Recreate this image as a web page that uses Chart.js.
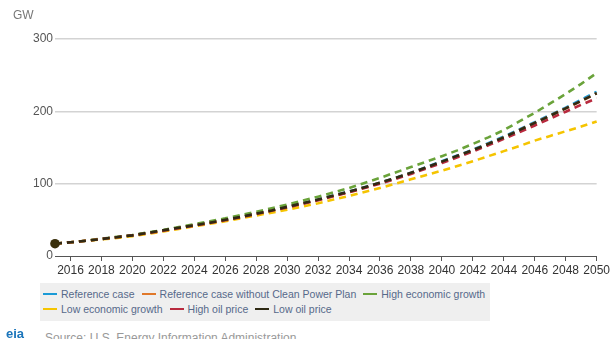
<!DOCTYPE html>
<html><head><meta charset="utf-8">
<script src="https://cdn.jsdelivr.net/npm/chart.js@4"></script>
<style>
html,body{margin:0;padding:0;width:612px;height:339px;overflow:hidden;background:#fff;font-family:"Liberation Sans",Arial,sans-serif;}
#wrap{position:absolute;left:0;top:0;width:612px;height:282px;}
#gw{position:absolute;left:13px;top:8px;font-size:12px;color:#777;}
#legend{position:absolute;left:40px;top:283px;width:450px;height:38px;background:#efefef;box-sizing:border-box;padding:3px 0 0 3px;}
.row{display:flex;align-items:center;height:15px;font-size:10.5px;color:#56698a;white-space:nowrap;}
.item{display:flex;align-items:center;margin-right:7px;}
.sw{display:inline-block;width:14px;height:2px;margin-right:4px;}
#src{position:absolute;left:45px;top:331px;font-size:12px;color:#999;}
#logo{position:absolute;left:6px;top:326px;font-size:13px;font-weight:bold;color:#1b75bb;}
</style></head><body>
<div id="wrap"><canvas id="c" width="612" height="282"></canvas></div>
<div id="gw">GW</div>
<div id="legend"></div>
<div id="logo">eia</div>
<div id="src">Source: U.S. Energy Information Administration</div>
<script>
const years = [];
for (let y = 2015; y <= 2050; y++) years.push(y);
const tickYears = [2016,2018,2020,2022,2024,2026,2028,2030,2032,2034,2036,2038,2040,2042,2044,2046,2048,2050];
const yTicks = [0,100,200,300];

const seriesNames = ["Reference case","Reference case without Clean Power Plan","High economic growth","Low economic growth","High oil price","Low oil price"];
const seriesColors = ["#1a9ad6","#e0782a","#6aa33a","#f5c400","#b82a3e","#2f2a14"];

const reference = [17,19,21,23.5,26,28.5,32,35.5,39,42.5,46,50,54,58.5,63,68,73,78,83.5,89,95,101.5,108,115,123,131,139,147,156,165,175,185,195,205,216,227];
const noCPP     = [17,19,21,23.5,26,28.5,32,35.5,39,42.5,46,50,54,58.5,63,68,72.5,77.5,83,88.5,94.5,101,107.5,114.5,122,130,138,146,155,164,174,184,194,204,214,225];
const highEcon  = [17,19,21,24,26.5,29,32.5,36,40,44,48,52,56.5,61,66,71,76.5,82,88,94,101,108,115.5,123,130.5,138,146,155,164,174,186,198,211,224,238,253];
const lowEcon   = [17,19,21,23,25,27.5,30.5,34,37.5,41,44.5,48,52,56,60,64,68.5,73,78,83,88.5,94,100,106,112,118,124.5,131,138,145,152,159.5,166,172.5,179,186];
const highOil   = [17,19,21,23.5,26,28.5,31.5,35,38.5,42,45.5,49.5,53.5,58,62.5,67,72,77,82.5,88,94,100,106.5,113.5,121,128.5,136.5,144.5,153,162,171,180.5,190,199.5,209,218];
const lowOil    = [17,19,21,23.5,26,28.5,32,35.5,39,42.5,46,50,54,58.5,63,68,73,78,83.5,89,95,101.5,108,115,122.5,130.5,138.5,146.5,155,164,174,184,194,204,214.5,225];

const seriesData = [reference,noCPP,highEcon,lowEcon,highOil,lowOil];

const datasets = seriesData.map((arr,i)=>({
  label: seriesNames[i],
  data: arr.map((v,j)=>({x:years[j],y:v})),
  borderColor: seriesColors[i],
  backgroundColor: seriesColors[i],
  borderWidth: 2.6,
  borderDash: [7,5],
  fill:false,
  tension:0,
  clip:false,
  pointRadius: (i===5) ? (ctx)=> ctx.dataIndex===0 ? 4.8 : 0 : 0,
  pointBackgroundColor: "#3a300c",
  pointBorderWidth: 0,
  order: 6-i
}));

// legend
const leg = document.getElementById('legend');
const rows = [[0,1,2],[3,4,5]];
rows.forEach(r=>{
  const row = document.createElement('div'); row.className='row';
  r.forEach(i=>{
    const it = document.createElement('span'); it.className='item';
    it.innerHTML = '<span class="sw" style="background:'+seriesColors[i]+'"></span>'+seriesNames[i];
    row.appendChild(it);
  });
  leg.appendChild(row);
});

new Chart(document.getElementById('c'), {
  type:'line',
  data:{datasets},
  options:{
    responsive:false, animation:false,
    layout:{padding:{top:39,right:9,left:0,bottom:0}},
    plugins:{legend:{display:false},tooltip:{enabled:false}},
    scales:{
      x:{type:'linear',min:2015,max:2050,
        afterBuildTicks:(s)=>{s.ticks = tickYears.map(v=>({value:v}));},
        afterFit:(s)=>{s.height = 26;},
        grid:{drawOnChartArea:false,drawTicks:true,tickLength:5,color:'#555',lineWidth:1},
        border:{display:true,color:'#555',width:1},
        ticks:{color:'#333',font:{family:'"Liberation Sans", Arial',size:12},padding:2,maxRotation:0,autoSkip:false,callback:(v)=>String(v)}
      },
      y:{min:0,max:300,
        afterBuildTicks:(s)=>{s.ticks = yTicks.map(v=>({value:v}));},
        afterFit:(s)=>{s.width = 55;},
        grid:{color:(c)=> c.tick && c.tick.value===0 ? 'rgba(0,0,0,0)' : '#d3d3d3',drawTicks:false,lineWidth:1.5},
        border:{display:false},
        ticks:{color:'#555',font:{family:'"Liberation Sans", Arial',size:12},padding:2,callback:(v)=>String(v)}
      }
    }
  }
});
</script>
</body></html>
